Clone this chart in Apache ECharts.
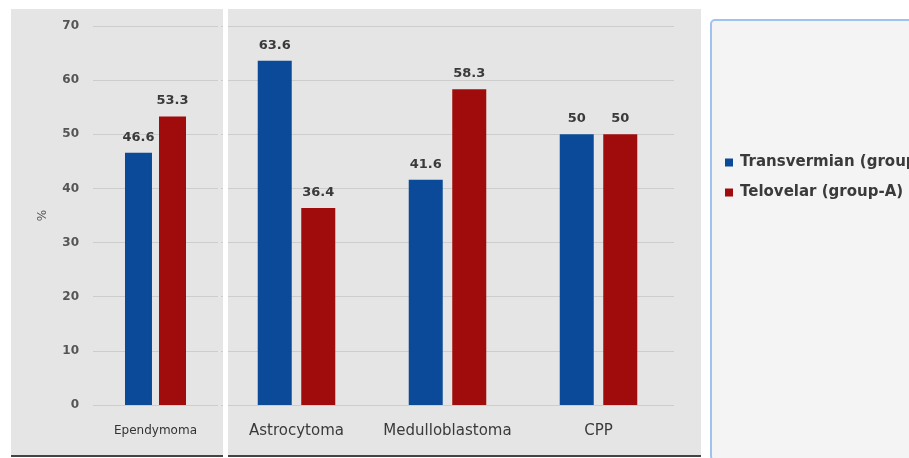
<!DOCTYPE html>
<html>
<head>
<meta charset="utf-8">
<script src="https://cdn.jsdelivr.net/npm/echarts@6/dist/echarts.min.js"></script>
<style>
  html, body { margin: 0; padding: 0; background: #fff; }
  #chart { width: 909px; height: 458px; }
</style>
</head>
<body>
<div id="chart"></div>
<script>
// data
var leftCats = ['Ependymoma'];
var rightCats = ['Astrocytoma', 'Medulloblastoma', 'CPP'];
var transvermianLeft = [46.6];
var telovelarLeft = [53.3];
var transvermianRight = [63.6, 41.6, 50];
var telovelarRight = [36.4, 58.3, 50];
var seriesNames = ['Transvermian (group-B)', 'Telovelar (group-A)'];

var BLUE = '#0b4a98';
var RED = '#a00c0c';

var myChart = echarts.init(document.getElementById('chart'));

var valueLabel = {
    show: true,
    position: 'top',
    distance: 9,
    color: '#3a3a3a',
    fontFamily: 'DejaVu Sans',
    fontSize: 13,
    fontWeight: 'bold'
};

var yBase = {
    type: 'value',
    min: 0,
    max: 70,
    interval: 10,
    axisLine: { show: false },
    axisTick: { show: false },
    splitLine: { lineStyle: { color: '#cdcdcd', width: 1 } }
};

var option = {
    backgroundColor: '#fff',
    animation: false,
    graphic: [
        // 左侧面板
        { type: 'rect', z: -10, shape: { x: 11, y: 9, width: 212, height: 446 }, style: { fill: '#e5e5e5' } },
        // 右侧面板
        { type: 'rect', z: -10, shape: { x: 228, y: 9, width: 473, height: 446 }, style: { fill: '#e5e5e5' } },
        // 底部阴影
        { type: 'rect', z: -9, shape: { x: 11, y: 455, width: 690, height: 2 }, style: { fill: '#444' } },
        // 分隔线
        { type: 'rect', z: 10, shape: { x: 223, y: 0, width: 5, height: 458 }, style: { fill: '#fff' } },
        // 图例框
        { type: 'rect', z: -10, shape: { x: 711, y: 20, width: 210, height: 440, r: 4 },
          style: { fill: '#f4f4f4', stroke: '#9fc3ee', lineWidth: 2 } }
    ],
    legend: {
        orient: 'vertical',
        left: 720,
        top: 150,
        itemWidth: 8,
        itemHeight: 8,
        itemGap: 15,
        icon: 'rect',
        data: seriesNames,
        textStyle: { color: '#3a3a3a', fontFamily: 'DejaVu Sans', fontSize: 15, fontWeight: 'bold', padding: [0, 0, 0, 2] }
    },
    grid: [
        { left: 93, width: 125, top: 26, height: 379 },
        { left: 221, width: 453, top: 26, height: 379 }
    ],
    xAxis: [{
        gridIndex: 0,
        type: 'category',
        data: leftCats,
        axisLine: { show: false },
        axisTick: { show: false },
        axisLabel: { color: '#333', fontFamily: 'DejaVu Sans', fontSize: 12, margin: 20 }
    }, {
        gridIndex: 1,
        type: 'category',
        data: rightCats,
        axisLine: { show: false },
        axisTick: { show: false },
        axisLabel: { interval: 0, color: '#3a3a3a', fontFamily: 'DejaVu Sans', fontSize: 15, margin: 19 }
    }],
    yAxis: [
        Object.assign({}, yBase, {
            gridIndex: 0,
            name: '%',
            nameLocation: 'middle',
            nameGap: 44,
            nameRotate: 90,
            nameTextStyle: { color: '#555', fontFamily: 'DejaVu Sans', fontSize: 12 },
            axisLabel: { color: '#555', fontFamily: 'DejaVu Sans', fontSize: 12, fontWeight: 'bold', margin: 14 }
        }),
        Object.assign({}, yBase, {
            gridIndex: 1,
            axisLabel: { show: false }
        })
    ],
    series: [{
        name: seriesNames[0],
        type: 'bar',
        xAxisIndex: 0, yAxisIndex: 0,
        barWidth: 27,
        barGap: '26%',
        itemStyle: { color: BLUE },
        label: valueLabel,
        data: transvermianLeft
    }, {
        name: seriesNames[1],
        type: 'bar',
        xAxisIndex: 0, yAxisIndex: 0,
        barWidth: 27,
        barGap: '26%',
        itemStyle: { color: RED },
        label: valueLabel,
        data: telovelarLeft
    }, {
        name: seriesNames[0],
        type: 'bar',
        xAxisIndex: 1, yAxisIndex: 1,
        barWidth: 34,
        barGap: '28%',
        itemStyle: { color: BLUE },
        label: valueLabel,
        data: transvermianRight
    }, {
        name: seriesNames[1],
        type: 'bar',
        xAxisIndex: 1, yAxisIndex: 1,
        barWidth: 34,
        barGap: '28%',
        itemStyle: { color: RED },
        label: valueLabel,
        data: telovelarRight
    }]
};

myChart.setOption(option);
</script>
</body>
</html>
